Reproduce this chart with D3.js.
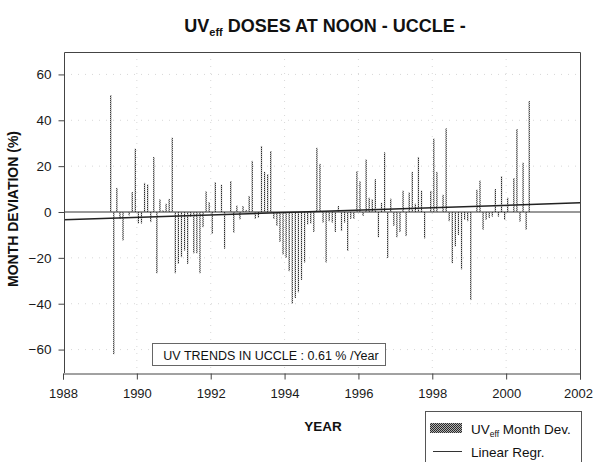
<!DOCTYPE html>
<html><head><meta charset="utf-8">
<script src="https://cdn.jsdelivr.net/npm/d3@7"></script>
<style>
body{margin:0;background:#fff;}
svg{display:block;font-family:"Liberation Sans",Arial,sans-serif;}
</style></head><body>
<svg id="c" width="594" height="462"></svg>
<script>
// ---- data ----
const startYear = 1989;
const startMonth = 4; // April 1989
const monthDev = [
  51, -62, 10.5, -3, -12.4, null, -1.5, 8.7, 27.6, -5, -5, 12.7, 12, -4.4, 24, -26.7,
  5.5, 0.7, 3.6, 5.7, 32.4, -26.7, -22.6, -19.7, -16.8, -22.6, -2, -18, -18, -26.7,
  -6.6, 9, 4.3, -9.5, 13, null, 11.9, -16, null, 13.5, -9, 2.8, -3.2, 2.6, 0.9, 7,
  22.3, -3, -2.5, 28.8, 17.5, 16.5, 26.6, -3, -6, -13, -18.5, -20, -25.8, -40, -37.5,
  -35, -29.6, -22, -5.4, -5, -8.7, 28, 21, -4.6, -22, -4, -4.6, -8.7, 2.6, -8.3, -4.6,
  -17, -3, -3, 17.8, 13.4, -1.7, 22.9, 6.2, 5.5, 14.3, -11, 4, 26, -20, 5.8, -6, -11,
  -8.7, 9.3, -10.5, 8.5, 17.5, 3.6, 24, 9.3, -11.5, null, 9.2, 32, 17.5, null, 7.5,
  36.5, -4, -22.3, -15, -10, -25, -3.4, -4, -38.4, null, 9.7, 13.7, -7.7, -3.4, -2.6,
  -2, 10, -2, 15.6, -3.4, 6.2, null, 14.8, 36.2, -4.2, 21.5, -7.7, 48.4
];
const trendYears = [1988, 2002];
const trendValues = [-3.4, 4.0];
const yTicks = [-60, -40, -20, 0, 20, 40, 60];
const xTicks = [1988, 1990, 1992, 1994, 1996, 1998, 2000, 2002];
const titleMain = "UV", titleSub = "eff", titleRest = " DOSES AT NOON - UCCLE -";
const yLabel = "MONTH DEVIATION (%)";
const xLabel = "YEAR";
const noteText = "UV TRENDS IN UCCLE : 0.61 % /Year";

// ---- chart ----
const svg = d3.select("#c");
const L = 64, R = 580, T = 52, B = 373;
const x = d3.scaleLinear().domain([1988, 2002]).range([63, 580]);
const y = d3.scaleLinear().domain([-70, 70]).range([372.5, 51.5]);

const defs = svg.append("defs");
const pat = defs.append("pattern").attr("id", "hatch").attr("patternUnits", "userSpaceOnUse")
  .attr("width", 2).attr("height", 2);
pat.append("rect").attr("width", 2).attr("height", 2).attr("fill", "#b0b0b0");
pat.append("rect").attr("width", 1).attr("height", 1).attr("fill", "#2a2a2a");
pat.append("rect").attr("x", 1).attr("y", 1).attr("width", 1).attr("height", 1).attr("fill", "#2a2a2a");

// faint grid
const grid = svg.append("g").attr("stroke", "#d8d8d8").attr("stroke-dasharray", "1,6");
grid.selectAll("line.h").data(yTicks.filter(d => d !== 0)).join("line")
  .attr("x1", L).attr("x2", R).attr("y1", d => y(d)).attr("y2", d => y(d));
grid.selectAll("line.v").data(xTicks.slice(1, -1)).join("line")
  .attr("y1", T).attr("y2", B).attr("x1", d => x(d)).attr("x2", d => x(d));

// bars
const pts = monthDev.map((v, i) => ({ t: startYear + (startMonth - 1 + i + 0.5) / 12, v }))
  .filter(d => d.v !== null);
svg.append("g").selectAll("rect").data(pts).join("rect")
  .attr("x", d => x(d.t) - 0.6).attr("width", 1.2)
  .attr("y", d => y(Math.max(0, d.v)))
  .attr("height", d => Math.abs(y(d.v) - y(0)))
  .attr("fill", "url(#hatch)");

// zero line
svg.append("line").attr("x1", L).attr("x2", R).attr("y1", y(0)).attr("y2", y(0))
  .attr("stroke", "#333").attr("stroke-width", 1);
// regression
svg.append("line")
  .attr("x1", x(trendYears[0]) + 1).attr("x2", x(trendYears[1]))
  .attr("y1", y(trendValues[0])).attr("y2", y(trendValues[1]))
  .attr("stroke", "#222").attr("stroke-width", 1.5);

// frame
svg.append("path").attr("d", `M${L + 0.5},${B}V${T + 0.5}H${R + 0.5}V${B + 6}`)
  .attr("fill", "none").attr("stroke", "#444");

// axes
const fs = "13px";
const ax = svg.append("g").attr("transform", `translate(0,${B + 0.5})`)
  .call(d3.axisBottom(x).tickValues(xTicks).tickFormat(d3.format("d")).tickSize(6).tickPadding(9));
ax.select(".domain").attr("stroke", "#444");
ax.selectAll(".tick line").attr("stroke", "#444");
ax.selectAll("text").attr("font-size", fs).attr("fill", "#1a1a1a")
  .attr("font-family", "Liberation Sans, Arial, sans-serif")
  .attr("dx", d => d === 2002 ? -2 : 0);

const ay = svg.append("g").attr("transform", `translate(${L + 0.5},0)`)
  .call(d3.axisLeft(y).tickValues(yTicks).tickSize(6).tickPadding(7));
ay.select(".domain").remove();
ay.selectAll(".tick line").attr("stroke", "#444");
ay.selectAll("text").attr("font-size", "13.5px").attr("fill", "#1a1a1a")
  .attr("font-family", "Liberation Sans, Arial, sans-serif");

// title
const tt = svg.append("text").attr("x", 325).attr("y", 32).attr("text-anchor", "middle")
  .attr("font-weight", "bold").attr("font-size", "18px").attr("fill", "#111");
tt.append("tspan").text(titleMain);
tt.append("tspan").attr("font-size", "11px").attr("dy", 4).text(titleSub);
tt.append("tspan").attr("dy", -4).text(titleRest);

// axis labels
svg.append("text").attr("transform", "translate(18,209) rotate(-90)")
  .attr("text-anchor", "middle").attr("font-weight", "bold").attr("font-size", "14px")
  .attr("fill", "#111").text(yLabel);
svg.append("text").attr("x", 323).attr("y", 431).attr("text-anchor", "middle")
  .attr("font-weight", "bold").attr("font-size", "13.5px").attr("fill", "#111").text(xLabel);

// note box
svg.append("rect").attr("x", 152.5).attr("y", 343.5).attr("width", 233).attr("height", 22)
  .attr("fill", "#fff").attr("stroke", "#666");
svg.append("text").attr("x", 271).attr("y", 359.5).attr("text-anchor", "middle")
  .attr("font-size", "12.5px").attr("fill", "#111").text(noteText);

// legend
const lg = svg.append("g");
lg.append("rect").attr("x", 425.5).attr("y", 411.5).attr("width", 156).attr("height", 70)
  .attr("fill", "#fff").attr("stroke", "#555");
lg.append("rect").attr("x", 430).attr("y", 423).attr("width", 32).attr("height", 10)
  .attr("fill", "url(#hatch)");
const lt = lg.append("text").attr("x", 471).attr("y", 434).attr("font-size", "13.5px").attr("fill", "#111");
lt.append("tspan").text("UV");
lt.append("tspan").attr("font-size", "8.5px").attr("dy", 3).text("eff");
lt.append("tspan").attr("dy", -3).text(" Month Dev.");
lg.append("line").attr("x1", 433).attr("x2", 462).attr("y1", 451.5).attr("y2", 451.5)
  .attr("stroke", "#333");
lg.append("text").attr("x", 471).attr("y", 457).attr("font-size", "13.5px").attr("fill", "#111")
  .text("Linear Regr.");
</script>
</body></html>
